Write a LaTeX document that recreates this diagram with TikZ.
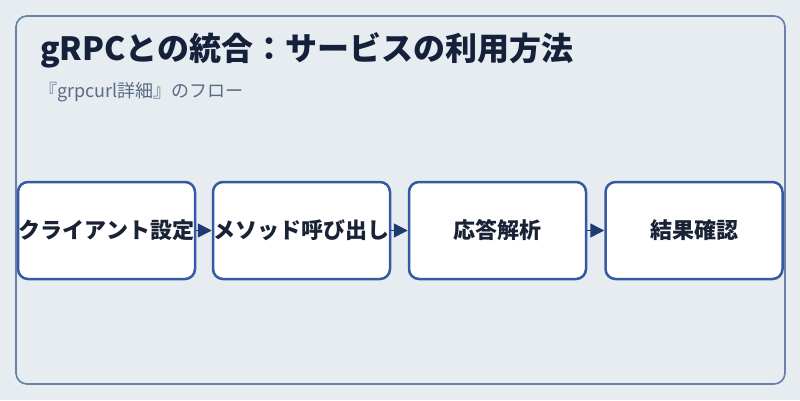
\documentclass[tikz,border=0pt]{standalone}
\usepackage{fontspec}
\setmainfont{Noto Sans CJK JP}
\usetikzlibrary{arrows.meta}
\definecolor{bgc}{HTML}{E7ECF1}
\definecolor{framec}{HTML}{6A80AD}
\definecolor{boxc}{HTML}{3559A3}
\definecolor{titlec}{HTML}{15213A}
\definecolor{subc}{HTML}{5A6B87}
\definecolor{textc}{HTML}{1A2235}
\definecolor{arrowc}{HTML}{1F3A73}
\tikzset{
  stepbox/.style={draw=boxc, line width=2.5pt, fill=white, rounded corners=10pt,
    minimum width=177pt, minimum height=97pt, inner sep=0pt,
    font=\fontsize{22}{26}\selectfont\bfseries, text=textc},
  flowarrow/.style={draw=arrowc, line width=1.5pt, -{Triangle[length=14pt,width=14pt]}},
}
\begin{document}
\begin{tikzpicture}[x=1pt,y=-1pt]
\useasboundingbox[fill=bgc] (0,0) rectangle (800,400);
\draw[framec, line width=1.7pt, rounded corners=11pt] (16,16) rectangle (785,384);
\node[anchor=base west, inner sep=0pt, text=titlec, font=\fontsize{32}{38}\selectfont\bfseries] (title) at (40,60) {gRPCとの統合：サービスの利用方法};
\node[anchor=base west, inner sep=0pt, text=subc, font=\fontsize{18}{22}\selectfont] (sub) at (39,97) {『grpcurl詳細』のフロー};
\node[stepbox] (b1) at (106.5,230.5) {クライアント設定};
\node[stepbox] (b2) at (301.5,230.5) {メソッド呼び出し};
\node[stepbox] (b3) at (497.5,230.5) {応答解析};
\node[stepbox] (b4) at (694,230.5) {結果確認};
\draw[flowarrow] (b1) -- (b2);
\draw[flowarrow] (b2) -- (b3);
\draw[flowarrow] (b3) -- (b4);
\end{tikzpicture}
\end{document}
